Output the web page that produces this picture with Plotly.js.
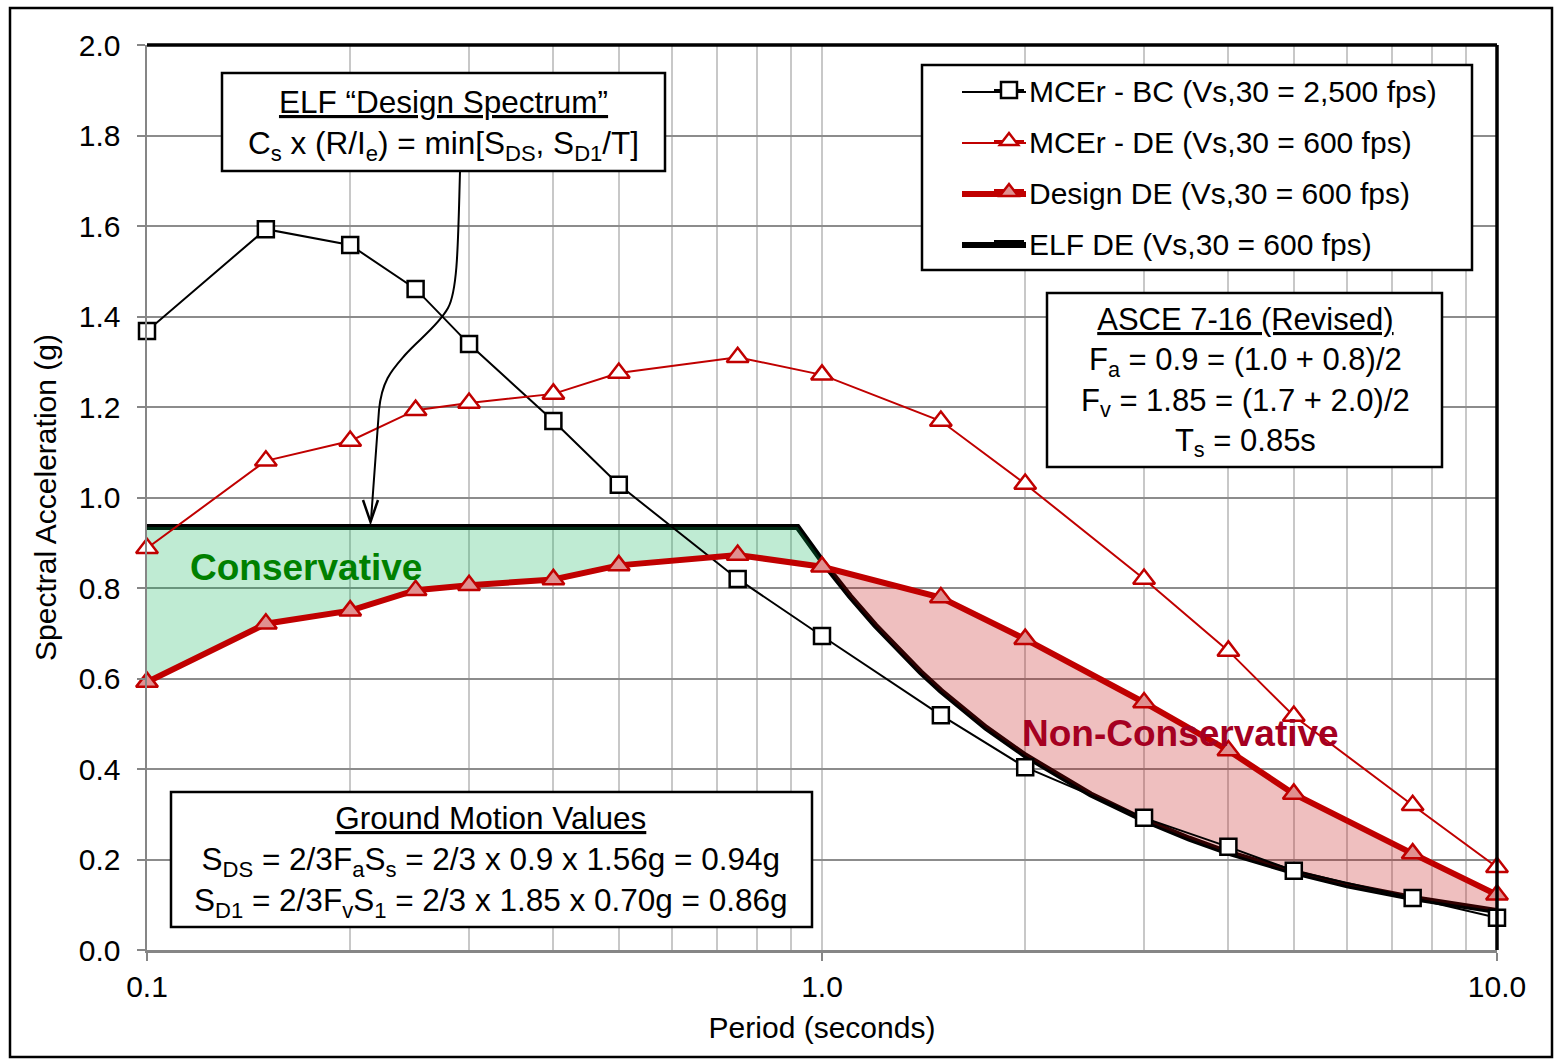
<!DOCTYPE html>
<html>
<head>
<meta charset="utf-8">
<script src="https://cdn.plot.ly/plotly-3.0.1.min.js"></script>
<style>html,body{margin:0;padding:0;background:#fff;}#chart{width:1563px;height:1063px;}</style>
</head>
<body>
<div id="chart"></div>
<script>
// ---- data ----
const periods = [0.1, 0.15, 0.2, 0.25, 0.3, 0.4, 0.5, 0.75, 1.0, 1.5, 2.0, 3.0, 4.0, 5.0, 7.5, 10.0];
const mcerBC = [1.368, 1.593, 1.558, 1.461, 1.339, 1.169, 1.028, 0.820, 0.694, 0.519, 0.404, 0.292, 0.228, 0.175, 0.115, 0.071];
const mcerDE = [0.888, 1.081, 1.125, 1.193, 1.209, 1.229, 1.275, 1.310, 1.271, 1.169, 1.030, 0.820, 0.661, 0.517, 0.320, 0.183];
const designDE = [0.592, 0.721, 0.750, 0.795, 0.806, 0.819, 0.850, 0.873, 0.847, 0.779, 0.687, 0.547, 0.441, 0.345, 0.213, 0.122];
const elfT = [0.1, 0.92, 1.0, 1.1, 1.2, 1.3, 1.4, 1.5, 1.75, 2.0, 2.5, 3.0, 3.5, 4.0, 5.0, 6.0, 7.5, 10.0];
const elfSa = [0.935, 0.935, 0.860, 0.782, 0.717, 0.662, 0.614, 0.573, 0.491, 0.430, 0.344, 0.287, 0.246, 0.215, 0.172, 0.143, 0.115, 0.086];
const seriesNames = ['MCEr - BC (Vs,30 = 2,500 fps)', 'MCEr - DE (Vs,30 = 600 fps)', 'Design DE (Vs,30 = 600 fps)', 'ELF DE (Vs,30 = 600 fps)'];
const xTickVals = [0.1, 1.0, 10.0];
const xTickText = ['0.1', '1.0', '10.0'];
const xMinorVals = [0.2, 0.3, 0.4, 0.5, 0.6, 0.7, 0.8, 0.9, 2, 3, 4, 5, 6, 7, 8, 9];

// ---- fill regions built from the series ----
const splitT = 1.0;
function part(xs, ys, test) { const X = [], Y = []; xs.forEach((x, i) => { if (test(x)) { X.push(x); Y.push(ys[i]); } }); return [X, Y]; }
const [dLoX, dLoY] = part(periods, designDE, x => x <= splitT);
const [eLoX, eLoY] = part(elfT, elfSa, x => x <= splitT);
const [dHiX, dHiY] = part(periods, designDE, x => x >= splitT);
const [eHiX, eHiY] = part(elfT, elfSa, x => x >= splitT);

const styles = {
  bc: { color: '#000000', width: 2 },
  de: { color: '#c00000', width: 2 },
  design: { color: '#c00000', width: 6 },
  elf: { color: '#000000', width: 6 }
};

const traces = [
  { x: elfT, y: elfSa, name: seriesNames[3], mode: 'lines', line: styles.elf,
    legendgroup: 'g4', legendrank: 4, cliponaxis: false, hoverinfo: 'skip' },
  { x: dLoX.concat(eLoX.slice().reverse()), y: dLoY.concat(eLoY.slice().reverse()), mode: 'lines', fill: 'toself',
    fillcolor: 'rgba(0,176,80,0.25)', line: { width: 0 }, showlegend: false, hoverinfo: 'skip' },
  { x: dHiX.concat(eHiX.slice().reverse()), y: dHiY.concat(eHiY.slice().reverse()), mode: 'lines', fill: 'toself',
    fillcolor: 'rgba(192,0,0,0.25)', line: { width: 0 }, showlegend: false, hoverinfo: 'skip' },
  { x: periods, y: mcerBC, name: seriesNames[0], mode: 'lines+markers', line: styles.bc,
    marker: { symbol: 'square', size: 16, color: '#ffffff', line: { color: '#000000', width: 2.5 } },
    legendgroup: 'g1', legendrank: 1, cliponaxis: false },
  { x: periods, y: mcerDE, name: seriesNames[1], mode: 'lines+markers', line: styles.de,
    marker: { symbol: 'triangle-up', size: 19, color: '#ffffff', line: { color: '#c00000', width: 2.5 } },
    legendgroup: 'g2', legendrank: 2, cliponaxis: false },
  { x: periods, y: designDE, name: seriesNames[2], mode: 'lines+markers', line: styles.design,
    marker: { symbol: 'triangle-up', size: 19, color: '#e09090', line: { color: '#c00000', width: 2.5 } },
    legendgroup: 'g3', legendrank: 3, cliponaxis: false }
];

// ---- pixel -> paper helpers (layout geometry) ----
const M = { l: 147, r: 66, t: 45, b: 113 };
const PW = 1563 - M.l - M.r, PH = 1063 - M.t - M.b;
const px = x => (x - M.l) / PW;
const py = y => (1063 - M.b - y) / PH;
function rect(x0, y0, x1, y1, w) {
  return { type: 'rect', xref: 'paper', yref: 'paper', x0: px(x0), y0: py(y1), x1: px(x1), y1: py(y0),
    line: { color: '#000', width: w || 2.5 }, fillcolor: '#ffffff', layer: 'above' };
}
function path(pts) {
  return pts.map(p => typeof p === 'string' ? p : (px(p[0]).toFixed(5) + ',' + py(p[1]).toFixed(5))).join(' ');
}
const arrowPath = path(['M', [460, 172], 'C', [458, 240], [458, 290], [448, 308], 'C', [438, 326], [418, 340], [405, 355],
  'C', [392, 370], [382, 380], [379, 410], 'L', [371, 520]]);
const headPath = path(['M', [363, 500], 'L', [370.5, 522], 'L', [378, 500]]);

// longer legend key lines (legend symbols sit on top of these)
const keyRows = [92, 143, 194, 245];
const keyStyles = [styles.bc, styles.de, styles.design, styles.elf];
const keyLines = keyRows.map((y, i) => ({ type: 'line', xref: 'paper', yref: 'paper', x0: px(962), x1: px(1026),
  y0: py(y), y1: py(y), line: keyStyles[i], layer: 'above' }));

const shapes = [
  { type: 'line', xref: 'paper', yref: 'paper', x0: 0, x1: 1, y0: 1, y1: 1, line: { color: '#000', width: 3.5 }, layer: 'above' },
  { type: 'line', xref: 'paper', yref: 'paper', x0: 1, x1: 1, y0: 0, y1: 1, line: { color: '#000', width: 3.5 }, layer: 'above' },
  { type: 'rect', xref: 'paper', yref: 'paper', x0: px(10), y0: py(1057), x1: px(1552), y1: py(8),
    line: { color: '#000', width: 2.5 }, layer: 'below' },
  rect(222, 73, 665, 171),
  rect(922, 65, 1472, 270),
  rect(1047, 293, 1442, 467),
  rect(171, 792, 812, 927),
  { type: 'path', xref: 'paper', yref: 'paper', path: arrowPath, line: { color: '#000', width: 2 }, layer: 'above' },
  { type: 'path', xref: 'paper', yref: 'paper', path: headPath, line: { color: '#000', width: 2.5 }, layer: 'above' }
].concat(keyLines);

const F = 'Arial, "Liberation Sans", sans-serif';
function ann(x, y, text, size, color) {
  return { xref: 'paper', yref: 'paper', x: px(x), y: py(y), xanchor: 'center', yanchor: 'middle',
    text: text, showarrow: false, align: 'center', font: { family: F, size: size, color: color || '#000' } };
}
const annotations = [
  ann(443, 125, '<u>ELF “Design Spectrum”</u><br>C<sub>s</sub> x (R/I<sub>e</sub>) = min[S<sub>DS</sub>, S<sub>D1</sub>/T]', 31.5),
  ann(1245, 382, '<u>ASCE 7-16 (Revised)</u><br>F<sub>a</sub> = 0.9 = (1.0 + 0.8)/2<br>F<sub>v</sub> = 1.85 = (1.7 + 2.0)/2<br>T<sub>s</sub> = 0.85s', 31),
  ann(491, 861, '<u>Ground Motion Values</u><br>S<sub>DS</sub> = 2/3F<sub>a</sub>S<sub>s</sub> = 2/3 x 0.9 x 1.56g = 0.94g<br>S<sub>D1</sub> = 2/3F<sub>v</sub>S<sub>1</sub> = 2/3 x 1.85 x 0.70g = 0.86g', 31.5),
  ann(306, 567, '<b>Conservative</b>', 37, '#008000'),
  ann(1180, 733, '<b>Non-Conservative</b>', 37, '#a50021')
];

const layout = {
  width: 1563, height: 1063,
  margin: M,
  paper_bgcolor: '#ffffff', plot_bgcolor: '#ffffff',
  font: { family: F, size: 30, color: '#000' },
  showlegend: true,
  legend: { x: px(989), y: py(64), xanchor: 'left', yanchor: 'top', bgcolor: 'rgba(0,0,0,0)', borderwidth: 0,
    traceorder: 'grouped', tracegroupgap: 9, font: { family: F, size: 30, color: '#000' } },
  xaxis: {
    type: 'log', range: [-1, 1], tickvals: xTickVals, ticktext: xTickText,
    showgrid: true, gridcolor: '#c8c8c8', gridwidth: 2, zeroline: false,
    minor: { tickvals: xMinorVals, showgrid: true, gridcolor: '#c8c8c8', gridwidth: 2, ticks: '' },
    ticks: 'outside', ticklen: 8, tickwidth: 2, tickcolor: '#868686',
    showline: true, linecolor: '#868686', linewidth: 2.5,
    tickfont: { family: F, size: 30, color: '#000' },
    title: { text: 'Period (seconds)', font: { family: F, size: 30, color: '#000' }, standoff: 16 }
  },
  yaxis: {
    range: [0, 2], dtick: 0.2, tick0: 0, tickformat: '.1f',
    showgrid: true, gridcolor: '#8c8c8c', gridwidth: 2, zeroline: false,
    ticks: 'outside', ticklen: 8, tickwidth: 2, tickcolor: '#868686', ticklabelstandoff: 10,
    showline: true, linecolor: '#868686', linewidth: 2.5,
    tickfont: { family: F, size: 30, color: '#000' },
    title: { text: 'Spectral Acceleration (g)', font: { family: F, size: 30, color: '#000' }, standoff: 14 }
  },
  shapes: shapes,
  annotations: annotations
};

Plotly.newPlot('chart', traces, layout, { displayModeBar: false, staticPlot: true });
</script>
</body>
</html>
